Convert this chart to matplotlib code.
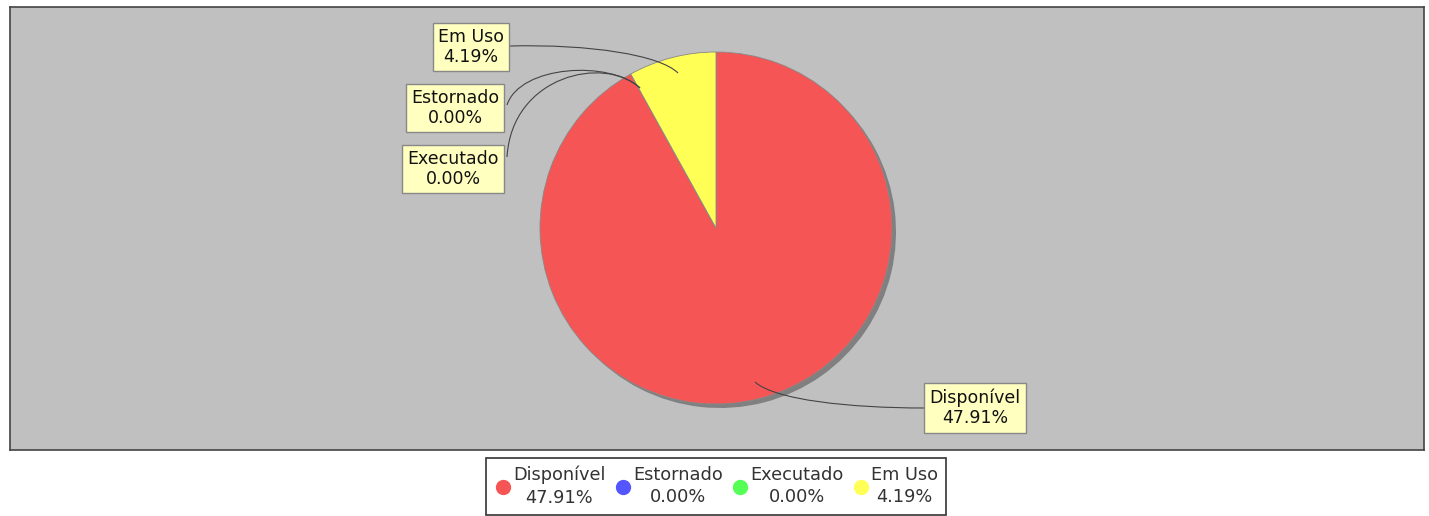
import matplotlib
matplotlib.use("Agg")
from matplotlib import pyplot as plt
from matplotlib.lines import Line2D
from matplotlib.path import Path
from matplotlib.patches import PathPatch

# Data
categories = ["Disponível", "Estornado", "Executado", "Em Uso"]
values = [47.91, 0.00, 0.00, 4.19]
colors = ["#F65555", "#5555FF", "#55FF55", "#FFFF55"]
labels = [f"{c}\n{v:.2f}%" for c, v in zip(categories, values)]

W, H = 1429, 516
fig = plt.figure(figsize=(W / 100, H / 100), dpi=100)
fig.patch.set_facecolor("white")

# Plot area (pixel box of the reference)
left, right, top, bottom = 10, 1424, 7, 450
ax = fig.add_axes([left / W, 1 - bottom / H, (right - left) / W, (bottom - top) / H])

# pie centre in pixels, 1 data unit = 1 px
cx, cy, radius = 716, 228, 176

def px(x, y):
    return x - cx, cy - y

# Shadow
ax.pie(values, radius=radius, center=(4, -4), startangle=90, counterclock=False,
       colors=["#808080"] * len(values), wedgeprops=dict(linewidth=0), frame=True)
# Pie
wedges, _ = ax.pie(values, radius=radius, startangle=90, counterclock=False,
                   colors=colors, wedgeprops=dict(linewidth=0.6, edgecolor="#888888"),
                   frame=True)
ax.set_xlim(left - cx, right - cx)
ax.set_ylim(cy - bottom, cy - top)
ax.set_aspect("equal")
ax.set_xticks([])
ax.set_yticks([])
ax.set_facecolor("#C0C0C0")
for s in ax.spines.values():
    s.set_color("#444444")
    s.set_linewidth(1.2)

box = dict(boxstyle="square,pad=0.3", facecolor="#FFFFC0", edgecolor="#888888", linewidth=1)
font = dict(fontsize=12.5, family="DejaVu Sans", ha="center", va="center",
            multialignment="center", linespacing=1.15, color="#111111")

# Label box centres and connector curves (box edge -> slice), in pixels
label_pos = [(975, 408), (455, 108), (453, 169), (471, 47)]
connectors = [
    [(924, 408), (850, 408), (775, 400), (755, 382)],
    [(507, 105), (520, 65), (610, 60), (640, 88)],
    [(507, 157), (512, 75), (605, 55), (640, 88)],
    [(510, 46), (590, 44), (660, 55), (678, 73)],
]

for lab, lp, pts in zip(labels, label_pos, connectors):
    path = Path([px(*p) for p in pts], [Path.MOVETO, Path.CURVE4, Path.CURVE4, Path.CURVE4])
    ax.add_patch(PathPatch(path, facecolor="none", edgecolor="#444444", lw=0.8, zorder=4))
    ax.text(*px(*lp), lab, bbox=box, zorder=5, **font)

# Legend (bottom edge falls outside the picture, as in the reference)
handles = [Line2D([], [], marker="o", linestyle="", markersize=10,
                  markerfacecolor=c, markeredgecolor=c) for c in colors]
leg = fig.legend(handles, labels, loc="upper center", bbox_to_anchor=(716 / W, 1 - 458 / H),
                 ncol=4, frameon=True, fontsize=12.8, handletextpad=0.1, columnspacing=0.45,
                 borderpad=0.45, borderaxespad=0, handlelength=1.0, fancybox=False,
                 edgecolor="black", labelcolor="#333333")
leg.get_frame().set_linewidth(1.2)
for t in leg.get_texts():
    t.set_multialignment("center")
    t.set_linespacing(1.3)

fig.savefig("out.png", dpi=100)
